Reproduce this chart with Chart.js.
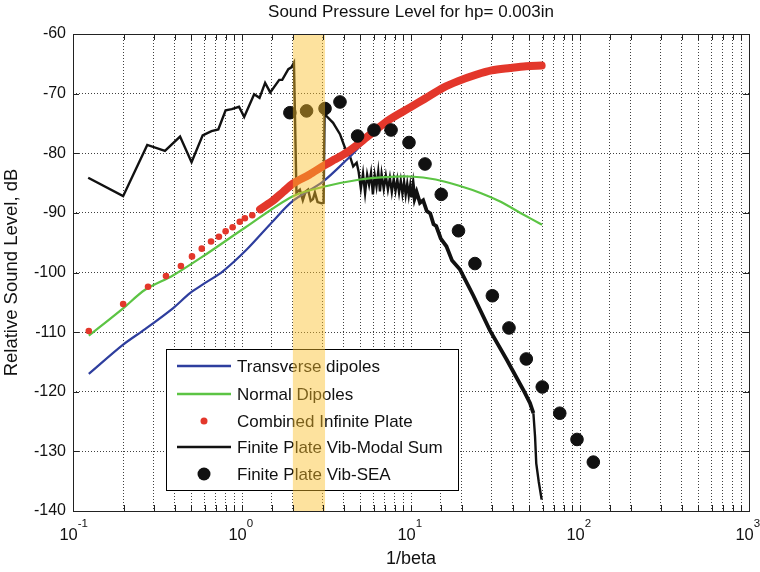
<!DOCTYPE html>
<html>
<head>
<meta charset="utf-8">
<title>Sound Pressure Level</title>
<script src="https://cdn.jsdelivr.net/npm/chart.js@4/dist/chart.umd.min.js"></script>
<style>
  html, body { margin: 0; padding: 0; background: #fff; }
  #wrap { width: 760px; height: 572px; }
</style>
</head>
<body>
<div id="wrap"><canvas id="splChart" width="760" height="572"></canvas></div>
<script>
// ---- data (x = 1/beta, y = dB) ----
const transX = [0.124, 0.198, 0.267, 0.39, 0.49, 0.587, 0.77, 1.07, 1.5, 2.0, 3.0, 4.2, 5.7, 7.5, 9.9, 12, 15.5, 19, 24.5, 30, 38.5, 48, 59.3];
const transY = [-117.0, -112.1, -109.5, -106.0, -103.5, -102.0, -99.8, -96.1, -91.6, -88.0, -84.8, -81.0, -77.2, -74.3, -72.3, -70.9, -69.0, -67.9, -66.8, -66.1, -65.7, -65.4, -65.3];

const normX = [0.124, 0.198, 0.267, 0.39, 0.587, 1.04, 2.0, 3.18, 5.0, 7, 9.9, 14, 19.5, 26, 33.7, 45, 59.6];
const normY = [-110.6, -106.0, -102.9, -100.5, -97.3, -92.5, -87.2, -85.5, -84.4, -84.0, -83.9, -84.4, -85.5, -86.7, -88.1, -90.1, -92.0];

// combined infinite plate: separate dots at low 1/beta, then a dense run of dots
const combSparseX = [0.124, 0.198, 0.278, 0.355, 0.435, 0.506, 0.578, 0.656, 0.73, 0.8, 0.88, 0.97, 1.04, 1.15];
const combSparseY = [-109.8, -105.3, -102.4, -100.6, -98.9, -97.3, -96.0, -94.8, -94.0, -93.1, -92.4, -91.5, -90.9, -90.4];
const combDenseX = [1.28, 1.5, 1.75, 2.0, 2.5, 3.0, 3.5, 4.16, 5, 6, 7.5, 9.9, 12, 15.5, 19, 24.5, 30, 38.5, 48, 59.3];
const combDenseY = [-89.4, -88.1, -86.5, -85.1, -83.6, -82.2, -81.1, -79.9, -78.2, -76.4, -74.3, -72.3, -70.9, -69.0, -67.9, -66.8, -66.1, -65.7, -65.4, -65.3];

const modalX = [0.123, 0.198, 0.275, 0.35, 0.43, 0.503, 0.585, 0.66, 0.724, 0.80, 0.87, 0.96, 1.03, 1.18, 1.27, 1.37, 1.47, 1.66, 1.73, 1.88, 1.96, 2.03,
  2.10, 2.20, 2.29, 2.38, 2.46, 2.55, 2.63, 2.70, 2.80, 2.96, 3.04, 3.08,
  3.17, 3.46, 3.8, 4.07, 4.35, 4.55, 4.77,
  4.9, 5.05, 5.2, 5.35, 5.5, 5.65, 5.8, 5.95, 6.1, 6.25, 6.4, 6.55, 6.7, 6.9, 7.1, 7.3, 7.5, 7.7, 7.9, 8.1, 8.3, 8.5, 8.7, 8.9, 9.1, 9.3, 9.5, 9.7, 9.9, 10.1, 10.3, 10.5,
  10.8, 11.3, 11.8, 12.4, 13, 13.6, 14.1, 15, 16.2, 17.5, 19.5, 23.4, 29.3, 36.8, 46.2, 50.6, 53, 54.2, 55.1, 57, 59.3];
const modalY = [-84.1, -87.2, -78.6, -79.6, -77.2, -81.5, -77.0, -76.3, -76.0, -72.8, -72.6, -72.2, -73.9, -70.1, -70.7, -68.2, -69.8, -67.7, -67.7, -65.9, -65.6, -64.8,
  -86.6, -86.1, -87.9, -86.4, -86.1, -88.0, -87.7, -86.6, -88.2, -88.4, -88.3, -73.3,
  -73.8, -74.9, -76.8, -79.1, -80.5, -82.2, -81.6,
  -83.1, -85.9, -83.4, -86.7, -83.6, -85.3, -83.3, -86.9, -83.7, -85.6, -83.1, -86.4, -83.5, -86.0, -83.8, -86.1, -84.1, -86.5, -84.3, -86.3, -84.4, -86.6, -84.6, -86.8, -84.8, -87.0, -85.1, -87.1, -85.3, -87.4, -85.6, -87.6,
  -86.5, -88.3, -87.9, -89.7, -90.1, -91.9, -92.2, -94.3, -95.6, -98.0, -99.5, -103.9, -109.7, -114.6, -119.7, -121.9, -123.6, -127.5, -132.0, -135.1, -138.1];

const seaX = [1.92, 2.41, 3.10, 3.80, 4.83, 6.04, 7.62, 9.73, 12.1, 15.1, 19.1, 23.9, 30.3, 38.0, 48.1, 59.8, 75.9, 96.0, 119.9];
const seaY = [-73.2, -72.9, -72.5, -71.4, -77.1, -76.1, -76.1, -78.2, -81.8, -86.9, -93.0, -98.5, -103.9, -109.3, -114.5, -119.2, -123.6, -128.0, -131.8];

const bandRange = [2.0, 3.1];   // highlighted 1/beta range
const xMin = 0.1, xMax = 1000;
const yMin = -140, yMax = -60, yStep = 10;

const legendNames = ['Transverse dipoles', 'Normal Dipoles', 'Combined Infinite Plate', 'Finite Plate Vib-Modal Sum', 'Finite Plate Vib-SEA'];

const FONT = '"Liberation Sans", Arial, Helvetica, sans-serif';
const BLUE = '#2e3e9e', GREEN = '#5cc444', RED = '#e3372b', BLACK = '#111';

function pts(xs, ys) {
  return xs.map((x, i) => ({ x: x, y: ys[i] }));
}

// legend box, highlight band, axes frame and 10^n labels
const overlay = {
  id: 'overlay',
  afterDatasetsDraw(chart) {
    const ctx = chart.ctx;
    const xs = chart.scales.x, ys = chart.scales.y;
    const a = chart.chartArea;

    // legend
    const lx = 166, ly = 349, lw = 292, lh = 141;
    ctx.save();
    ctx.fillStyle = '#fff';
    ctx.fillRect(lx, ly, lw, lh);
    ctx.strokeStyle = '#000';
    ctx.lineWidth = 1;
    ctx.strokeRect(lx + 0.5, ly + 0.5, lw, lh);
    const rows = [366, 394, 421, 447, 474];
    ctx.font = '17px ' + FONT;
    ctx.textBaseline = 'middle';
    rows.forEach((ry, i) => {
      if (i === 0 || i === 1 || i === 3) {
        ctx.strokeStyle = [BLUE, GREEN, null, BLACK][i];
        ctx.lineWidth = 2.5;
        ctx.beginPath();
        ctx.moveTo(177, ry);
        ctx.lineTo(231, ry);
        ctx.stroke();
      } else {
        ctx.fillStyle = i === 2 ? RED : BLACK;
        ctx.beginPath();
        ctx.arc(204, ry, i === 2 ? 3.5 : 6.5, 0, Math.PI * 2);
        ctx.fill();
      }
      ctx.fillStyle = '#111';
      ctx.fillText(legendNames[i], 237, ry + 1);
    });

    // translucent band
    const b0 = xs.getPixelForValue(bandRange[0]);
    const b1 = xs.getPixelForValue(bandRange[1]);
    ctx.fillStyle = 'rgba(250, 190, 40, 0.45)';
    ctx.fillRect(b0, a.top, b1 - b0, a.bottom - a.top);

    // frame with inward ticks on all four sides
    ctx.strokeStyle = '#222';
    ctx.lineWidth = 1;
    ctx.strokeRect(Math.round(a.left) + 0.5, Math.round(a.top) + 0.5, Math.round(a.right - a.left), Math.round(a.bottom - a.top));
    ctx.beginPath();
    xs.ticks.forEach(t => {
      const px = Math.round(xs.getPixelForValue(t.value)) + 0.5;
      ctx.moveTo(px, a.bottom); ctx.lineTo(px, a.bottom - 6);
      ctx.moveTo(px, a.top); ctx.lineTo(px, a.top + 6);
    });
    ys.ticks.forEach(t => {
      const py = Math.round(ys.getPixelForValue(t.value)) + 0.5;
      ctx.moveTo(a.left, py); ctx.lineTo(a.left + 6, py);
      ctx.moveTo(a.right, py); ctx.lineTo(a.right - 6, py);
    });
    ctx.stroke();

    // x tick labels as 10 with a raised exponent
    ctx.fillStyle = '#111';
    ctx.textBaseline = 'alphabetic';
    ctx.textAlign = 'left';
    xs.ticks.forEach(t => {
      const e = Math.log10(t.value);
      if (Math.abs(e - Math.round(e)) > 1e-6) return;
      const exp = String(Math.round(e));
      ctx.font = '16.5px ' + FONT;
      const wBase = ctx.measureText('10').width;
      const x0 = xs.getPixelForValue(t.value) - wBase * 0.74;
      ctx.fillText('10', x0, a.bottom + 29);
      ctx.font = '11.5px ' + FONT;
      ctx.fillText(exp, x0 + wBase, a.bottom + 16);
    });
    ctx.restore();
  }
};

new Chart(document.getElementById('splChart').getContext('2d'), {
  type: 'scatter',
  data: {
    datasets: [
      {
        label: legendNames[4],
        data: pts(seaX, seaY),
        backgroundColor: BLACK,
        borderColor: BLACK,
        pointRadius: 6.3,
        showLine: false,
        order: 0
      },
      {
        label: legendNames[2],
        data: pts(combSparseX, combSparseY),
        backgroundColor: RED,
        borderWidth: 0,
        pointRadius: 3.3,
        showLine: false,
        order: 1
      },
      {
        label: legendNames[2] + ' (dense)',
        data: pts(combDenseX, combDenseY),
        borderColor: RED,
        backgroundColor: RED,
        borderWidth: 8,
        pointRadius: 0,
        showLine: true,
        tension: 0.3,
        borderCapStyle: 'round',
        order: 1
      },
      {
        label: legendNames[1],
        data: pts(normX, normY),
        borderColor: GREEN,
        borderWidth: 2.2,
        pointRadius: 0,
        showLine: true,
        tension: 0.3,
        order: 2
      },
      {
        label: legendNames[0],
        data: pts(transX, transY),
        borderColor: BLUE,
        borderWidth: 2.2,
        pointRadius: 0,
        showLine: true,
        tension: 0.3,
        order: 3
      },
      {
        label: legendNames[3],
        data: pts(modalX, modalY),
        borderColor: BLACK,
        borderWidth: 2.4,
        pointRadius: 0,
        showLine: true,
        tension: 0,
        segment: {
          borderWidth: c => (c.p0.parsed.x > 10 && c.p0.parsed.x < 53 ? 3.8 : 2.4)
        },
        order: 4
      }
    ]
  },
  options: {
    responsive: false,
    animation: false,
    layout: { padding: { right: 11, left: 0, top: 0, bottom: 0 } },
    plugins: {
      legend: { display: false },
      tooltip: { enabled: false },
      title: {
        display: true,
        fullSize: false,
        text: 'Sound Pressure Level for hp= 0.003in',
        color: '#111',
        font: { family: FONT, size: 17, weight: 'normal' },
        padding: { top: 2, bottom: 11.6 }
      }
    },
    scales: {
      x: {
        type: 'logarithmic',
        min: xMin,
        max: xMax,
        afterFit: s => { s.height = 61; },
        grid: { color: 'rgba(0,0,0,0.75)', lineWidth: 1, drawTicks: false },
        border: { display: false, dash: [1, 2] },
        ticks: {
          autoSkip: false,
          maxRotation: 0,
          padding: 0,
          callback: () => ''
        },
        title: {
          display: true,
          text: '1/beta',
          color: '#111',
          font: { family: FONT, size: 18 },
          padding: { top: 0, bottom: 2 }
        }
      },
      y: {
        min: yMin,
        max: yMax,
        afterFit: s => { s.width = 73; },
        grid: { color: 'rgba(0,0,0,0.75)', lineWidth: 1, drawTicks: false },
        border: { display: false, dash: [1, 2] },
        ticks: {
          stepSize: yStep,
          padding: 7,
          color: '#111',
          font: { family: FONT, size: 16 }
        },
        title: {
          display: true,
          text: 'Relative Sound Level, dB',
          color: '#111',
          font: { family: FONT, size: 18.5 },
          padding: { top: 1, bottom: 4 }
        }
      }
    }
  },
  plugins: [overlay]
});
</script>
</body>
</html>
